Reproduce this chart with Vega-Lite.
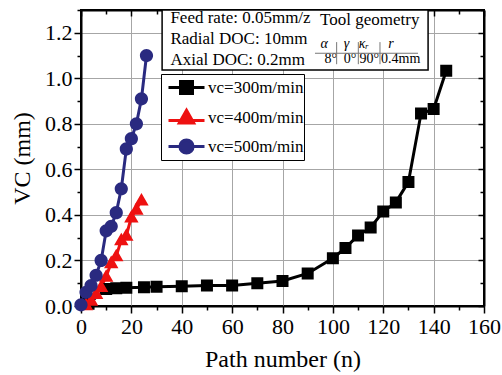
{
  "$schema": "https://vega.github.io/schema/vega-lite/v6.json",
  "width": 403,
  "height": 296,
  "autosize": "none",
  "padding": {"left": 81, "top": 10, "right": 18, "bottom": 69},
  "config": {
    "font": "Liberation Serif",
    "view": {"stroke": "black", "strokeWidth": 2},
    "axis": {"labelFont": "Liberation Serif", "titleFont": "Liberation Serif", "labelColor": "black", "titleColor": "black", "titleFontWeight": "normal", "domainColor": "black", "domainWidth": 2, "tickColor": "black", "tickWidth": 1.5, "gridColor": "#a6a6a6", "gridWidth": 1},
    "legend": {"labelFont": "Liberation Serif", "labelFontSize": 17, "labelColor": "black"}
  },
  "datasets": {
    "vc": [
      {"speed": "vc=300m/min", "n": 3, "VC": 0.01},
      {"speed": "vc=300m/min", "n": 10, "VC": 0.075},
      {"speed": "vc=300m/min", "n": 14, "VC": 0.078},
      {"speed": "vc=300m/min", "n": 18, "VC": 0.08},
      {"speed": "vc=300m/min", "n": 25, "VC": 0.082},
      {"speed": "vc=300m/min", "n": 30, "VC": 0.085},
      {"speed": "vc=300m/min", "n": 40, "VC": 0.087},
      {"speed": "vc=300m/min", "n": 50, "VC": 0.09},
      {"speed": "vc=300m/min", "n": 60, "VC": 0.09},
      {"speed": "vc=300m/min", "n": 70, "VC": 0.1},
      {"speed": "vc=300m/min", "n": 80, "VC": 0.11},
      {"speed": "vc=300m/min", "n": 90, "VC": 0.143},
      {"speed": "vc=300m/min", "n": 100, "VC": 0.21},
      {"speed": "vc=300m/min", "n": 105, "VC": 0.255},
      {"speed": "vc=300m/min", "n": 110, "VC": 0.31},
      {"speed": "vc=300m/min", "n": 115, "VC": 0.345},
      {"speed": "vc=300m/min", "n": 120, "VC": 0.415},
      {"speed": "vc=300m/min", "n": 125, "VC": 0.455},
      {"speed": "vc=300m/min", "n": 130, "VC": 0.545},
      {"speed": "vc=300m/min", "n": 135, "VC": 0.845},
      {"speed": "vc=300m/min", "n": 140, "VC": 0.865},
      {"speed": "vc=300m/min", "n": 145, "VC": 1.033},
      {"speed": "vc=400m/min", "n": 2, "VC": 0.005},
      {"speed": "vc=400m/min", "n": 4, "VC": 0.025},
      {"speed": "vc=400m/min", "n": 6, "VC": 0.055},
      {"speed": "vc=400m/min", "n": 8, "VC": 0.085},
      {"speed": "vc=400m/min", "n": 10, "VC": 0.13},
      {"speed": "vc=400m/min", "n": 12, "VC": 0.19},
      {"speed": "vc=400m/min", "n": 14, "VC": 0.22},
      {"speed": "vc=400m/min", "n": 16, "VC": 0.29},
      {"speed": "vc=400m/min", "n": 18, "VC": 0.31},
      {"speed": "vc=400m/min", "n": 20, "VC": 0.39},
      {"speed": "vc=400m/min", "n": 22, "VC": 0.425},
      {"speed": "vc=400m/min", "n": 24, "VC": 0.465},
      {"speed": "vc=500m/min", "n": 0, "VC": 0.005},
      {"speed": "vc=500m/min", "n": 2, "VC": 0.06},
      {"speed": "vc=500m/min", "n": 4, "VC": 0.09},
      {"speed": "vc=500m/min", "n": 6, "VC": 0.135},
      {"speed": "vc=500m/min", "n": 8, "VC": 0.2},
      {"speed": "vc=500m/min", "n": 10, "VC": 0.33},
      {"speed": "vc=500m/min", "n": 12, "VC": 0.35},
      {"speed": "vc=500m/min", "n": 14, "VC": 0.41},
      {"speed": "vc=500m/min", "n": 16, "VC": 0.515},
      {"speed": "vc=500m/min", "n": 18, "VC": 0.69},
      {"speed": "vc=500m/min", "n": 20, "VC": 0.735},
      {"speed": "vc=500m/min", "n": 22, "VC": 0.8},
      {"speed": "vc=500m/min", "n": 24, "VC": 0.91},
      {"speed": "vc=500m/min", "n": 26, "VC": 1.1}
    ]
  },
  "layer": [
    {
      "data": {"name": "vc"},
      "mark": {"type": "line", "strokeWidth": 3},
      "encoding": {
        "x": {"field": "n", "type": "quantitative", "scale": {"domain": [0, 160], "nice": false},
          "axis": {"orient": "bottom", "values": [0,10,20,30,40,50,60,70,80,90,100,110,120,130,140,150,160],
            "labelExpr": "datum.value % 20 === 0 ? datum.label : ''",
            "tickSize": {"condition": {"test": "datum.value % 20 === 0", "value": 7}, "value": 4},
            "gridOpacity": {"condition": {"test": "datum.value % 20 === 0", "value": 1}, "value": 0},
            "grid": true, "labelFontSize": 22, "labelPadding": 3, "labelFlush": false,
            "title": "Path number (n)", "titleFontSize": 24, "titlePadding": 10}},
        "y": {"field": "VC", "type": "quantitative", "scale": {"domain": [0, 1.3], "nice": false},
          "axis": {"orient": "left", "values": [0,0.1,0.2,0.3,0.4,0.5,0.6,0.7,0.8,0.9,1.0,1.1,1.2,1.3],
            "format": ".1f",
            "labelExpr": "abs(datum.value*5-round(datum.value*5)) < 0.001 ? datum.label : ''",
            "tickSize": {"condition": {"test": "abs(datum.value*5-round(datum.value*5)) < 0.001", "value": 7}, "value": 4},
            "gridOpacity": {"condition": {"test": "abs(datum.value*5-round(datum.value*5)) < 0.001", "value": 1}, "value": 0},
            "grid": true, "labelFontSize": 22, "labelPadding": 2, "labelFlush": false,
            "title": "VC (mm)", "titleFontSize": 24, "titlePadding": 10}},
        "stroke": {"field": "speed", "type": "nominal",
          "scale": {"domain": ["vc=300m/min", "vc=400m/min", "vc=500m/min"], "range": ["#000000", "#ee1111", "#2a2a80"]},
          "legend": {"title": null, "orient": "none", "legendX": 80, "legendY": 64, "fillColor": "white", "strokeColor": "black",
            "padding": 0, "symbolOffset": 12, "labelOffset": 8, "rowPadding": 4, "symbolSize": 576, "symbolStrokeWidth": 3}}
      }
    },
    {
      "data": {"name": "vc"},
      "mark": {"type": "point", "filled": true, "size": 576, "opacity": 1},
      "encoding": {
        "x": {"field": "n", "type": "quantitative",
          "axis": {"orient": "top", "values": [0,10,20,30,40,50,60,70,80,90,100,110,120,130,140,150,160],
            "labels": false, "title": null, "grid": false,
            "tickSize": {"condition": {"test": "datum.value % 20 === 0", "value": -6}, "value": -4}}},
        "y": {"field": "VC", "type": "quantitative",
          "axis": {"orient": "right", "values": [0,0.1,0.2,0.3,0.4,0.5,0.6,0.7,0.8,0.9,1.0,1.1,1.2,1.3],
            "labels": false, "title": null, "grid": false,
            "tickSize": {"condition": {"test": "abs(datum.value*5-round(datum.value*5)) < 0.001", "value": -6}, "value": -4}}},
        "color": {"field": "speed", "type": "nominal",
          "scale": {"domain": ["vc=300m/min", "vc=400m/min", "vc=500m/min"], "range": ["#000000", "#ee1111", "#2a2a80"]},
          "legend": {"title": null, "orient": "none", "legendX": 80, "legendY": 64, "fillColor": "white", "strokeColor": "black",
            "padding": 0, "symbolOffset": 12, "labelOffset": 8, "rowPadding": 4, "symbolSize": 576, "symbolStrokeWidth": 3}},
        "shape": {"field": "speed", "type": "nominal",
          "scale": {"domain": ["vc=300m/min", "vc=400m/min", "vc=500m/min"],
            "range": ["M-1.5,0H1.5M-0.5,-0.5H0.5V0.5H-0.5Z", "M-1.5,0.25H1.5M0,-0.6L0.6,0.45L-0.6,0.45Z", "M-1.5,0H1.5M0.55,0A0.55,0.55,0,1,1,-0.55,0A0.55,0.55,0,1,1,0.55,0Z"]},
          "legend": {"title": null, "orient": "none", "legendX": 80, "legendY": 64, "fillColor": "white", "strokeColor": "black",
            "padding": 0, "symbolOffset": 12, "labelOffset": 8, "rowPadding": 4, "symbolSize": 576, "symbolStrokeWidth": 3}}
      }
    },
    {
      "data": {"values": [{"box": "conditions"}]},
      "mark": {"type": "rect", "fill": "white", "stroke": "black", "strokeWidth": 1.5},
      "encoding": {
        "x": {"datum": 32.2, "type": "quantitative", "axis": null},
        "x2": {"datum": 137.8},
        "y": {"datum": 1.3, "type": "quantitative", "axis": null},
        "y2": {"datum": 1.036}
      }
    },
    {
      "data": {"values": [{"t": "Feed rate: 0.05mm/z"}]},
      "mark": {"type": "text", "align": "left", "baseline": "alphabetic", "fontSize": 17, "font": "Liberation Serif", "color": "black"},
      "encoding": {"x": {"datum": 35.5, "type": "quantitative", "axis": null}, "y": {"datum": 1.243, "type": "quantitative", "axis": null}, "text": {"field": "t"}}
    },
    {
      "data": {"values": [{"t": "Radial DOC: 10mm"}]},
      "mark": {"type": "text", "align": "left", "baseline": "alphabetic", "fontSize": 17, "font": "Liberation Serif", "color": "black"},
      "encoding": {"x": {"datum": 35.5, "type": "quantitative", "axis": null}, "y": {"datum": 1.151, "type": "quantitative", "axis": null}, "text": {"field": "t"}}
    },
    {
      "data": {"values": [{"t": "Axial DOC: 0.2mm"}]},
      "mark": {"type": "text", "align": "left", "baseline": "alphabetic", "fontSize": 17, "font": "Liberation Serif", "color": "black"},
      "encoding": {"x": {"datum": 35.5, "type": "quantitative", "axis": null}, "y": {"datum": 1.058, "type": "quantitative", "axis": null}, "text": {"field": "t"}}
    },
    {
      "data": {"values": [{"t": "Tool geometry"}]},
      "mark": {"type": "text", "align": "left", "baseline": "alphabetic", "fontSize": 17, "font": "Liberation Serif", "color": "black"},
      "encoding": {"x": {"datum": 94.9, "type": "quantitative", "axis": null}, "y": {"datum": 1.234, "type": "quantitative", "axis": null}, "text": {"field": "t"}}
    },
    {
      "data": {"values": [{"t": "α"}]},
      "mark": {"type": "text", "align": "center", "baseline": "alphabetic", "fontSize": 14, "fontStyle": "italic", "font": "Liberation Serif", "color": "black"},
      "encoding": {"x": {"datum": 96.5, "type": "quantitative", "axis": null}, "y": {"datum": 1.133, "type": "quantitative", "axis": null}, "text": {"field": "t"}}
    },
    {
      "data": {"values": [{"t": "γ"}]},
      "mark": {"type": "text", "align": "center", "baseline": "alphabetic", "fontSize": 14, "fontStyle": "italic", "font": "Liberation Serif", "color": "black"},
      "encoding": {"x": {"datum": 105.4, "type": "quantitative", "axis": null}, "y": {"datum": 1.133, "type": "quantitative", "axis": null}, "text": {"field": "t"}}
    },
    {
      "data": {"values": [{"t": "κᵣ"}]},
      "mark": {"type": "text", "align": "center", "baseline": "alphabetic", "fontSize": 14, "fontStyle": "italic", "font": "Liberation Serif", "color": "black"},
      "encoding": {"x": {"datum": 112.3, "type": "quantitative", "axis": null}, "y": {"datum": 1.133, "type": "quantitative", "axis": null}, "text": {"field": "t"}}
    },
    {
      "data": {"values": [{"t": "r"}]},
      "mark": {"type": "text", "align": "center", "baseline": "alphabetic", "fontSize": 14, "fontStyle": "italic", "font": "Liberation Serif", "color": "black"},
      "encoding": {"x": {"datum": 123.1, "type": "quantitative", "axis": null}, "y": {"datum": 1.133, "type": "quantitative", "axis": null}, "text": {"field": "t"}}
    },
    {
      "data": {"values": [{"t": "8°"}]},
      "mark": {"type": "text", "align": "center", "baseline": "alphabetic", "fontSize": 14, "font": "Liberation Serif", "color": "black"},
      "encoding": {"x": {"datum": 99.2, "type": "quantitative", "axis": null}, "y": {"datum": 1.067, "type": "quantitative", "axis": null}, "text": {"field": "t"}}
    },
    {
      "data": {"values": [{"t": "0°"}]},
      "mark": {"type": "text", "align": "center", "baseline": "alphabetic", "fontSize": 14, "font": "Liberation Serif", "color": "black"},
      "encoding": {"x": {"datum": 106.8, "type": "quantitative", "axis": null}, "y": {"datum": 1.067, "type": "quantitative", "axis": null}, "text": {"field": "t"}}
    },
    {
      "data": {"values": [{"t": "90°"}]},
      "mark": {"type": "text", "align": "center", "baseline": "alphabetic", "fontSize": 14, "font": "Liberation Serif", "color": "black"},
      "encoding": {"x": {"datum": 114.5, "type": "quantitative", "axis": null}, "y": {"datum": 1.067, "type": "quantitative", "axis": null}, "text": {"field": "t"}}
    },
    {
      "data": {"values": [{"t": "0.4mm"}]},
      "mark": {"type": "text", "align": "center", "baseline": "alphabetic", "fontSize": 14, "font": "Liberation Serif", "color": "black"},
      "encoding": {"x": {"datum": 126.9, "type": "quantitative", "axis": null}, "y": {"datum": 1.067, "type": "quantitative", "axis": null}, "text": {"field": "t"}}
    },
    {
      "data": {"values": [{"line": "table rule"}]},
      "mark": {"type": "rule", "color": "#777777", "strokeWidth": 1},
      "encoding": {"x": {"datum": 92.9, "type": "quantitative", "axis": null}, "x2": {"datum": 133.8}, "y": {"datum": 1.11, "type": "quantitative", "axis": null}}
    },
    {
      "data": {"values": [{"line": "table rule"}]},
      "mark": {"type": "rule", "color": "#777777", "strokeWidth": 1},
      "encoding": {"x": {"datum": 101.5, "type": "quantitative", "axis": null}, "y": {"datum": 1.159, "type": "quantitative", "axis": null}, "y2": {"datum": 1.062}}
    },
    {
      "data": {"values": [{"line": "table rule"}]},
      "mark": {"type": "rule", "color": "#777777", "strokeWidth": 1},
      "encoding": {"x": {"datum": 110.1, "type": "quantitative", "axis": null}, "y": {"datum": 1.159, "type": "quantitative", "axis": null}, "y2": {"datum": 1.062}}
    },
    {
      "data": {"values": [{"line": "table rule"}]},
      "mark": {"type": "rule", "color": "#777777", "strokeWidth": 1},
      "encoding": {"x": {"datum": 118.7, "type": "quantitative", "axis": null}, "y": {"datum": 1.159, "type": "quantitative", "axis": null}, "y2": {"datum": 1.062}}
    }
  ],
  "resolve": {"axis": {"x": "independent", "y": "independent"}}
}
